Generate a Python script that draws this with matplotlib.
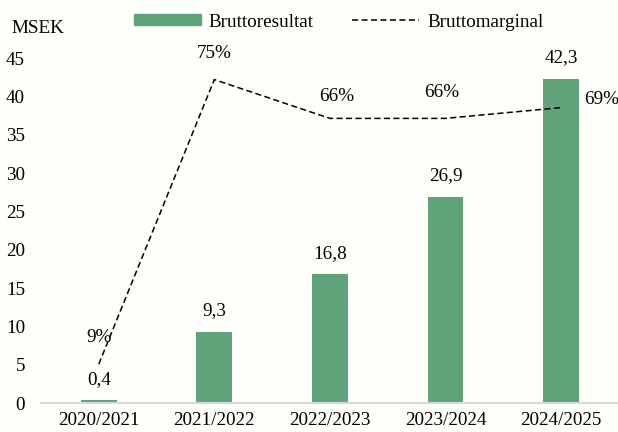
import matplotlib.pyplot as plt
from matplotlib.patches import Patch
from matplotlib.lines import Line2D

plt.rcParams['font.family'] = ['Liberation Serif', 'DejaVu Serif']

years = ['2020/2021', '2021/2022', '2022/2023', '2023/2024', '2024/2025']
bruttoresultat = [0.4, 9.3, 16.8, 26.9, 42.3]
bruttomarginal = [0.09, 0.75, 0.66, 0.66, 0.685]
res_labels = ['0,4', '9,3', '16,8', '26,9', '42,3']
marg_labels = ['9%', '75%', '66%', '66%', '69%']

green = '#5fa37a'
bg = '#fefefb'
fs = 13.8

fig = plt.figure(figsize=(6.18, 4.32), dpi=100, facecolor=bg)
ax = fig.add_axes([0.0663, 0.0671, 0.935, 0.7986], facecolor=bg)
x = range(len(years))

ax.bar(x, bruttoresultat, width=0.31, color=green, zorder=2)
ax.set_xlim(-0.5, 4.5)
ax.set_ylim(0, 45)
ax.set_yticks(range(0, 46, 5))
ax.set_xticks(list(x))
ax.set_xticklabels(years)
ax.tick_params(axis='both', length=0, labelsize=fs)
ax.tick_params(axis='y', pad=11.5)
ax.tick_params(axis='x', pad=6.5)
for s in ['top', 'right', 'left']:
    ax.spines[s].set_visible(False)
ax.spines['bottom'].set_color('#d9d9d9')
ax.spines['bottom'].set_linewidth(1.5)

for i, v in enumerate(bruttoresultat):
    ax.annotate(res_labels[i], (i, v), xytext=(0, 15), textcoords='offset points',
                ha='center', va='center', fontsize=fs)

ax2 = ax.twinx()
ax2.set_ylim(0, 0.8)
ax2.axis('off')
ax2.plot(x, bruttomarginal, color='black', lw=1.1, dashes=(4, 2.2), zorder=3)

offsets = [(0, 19), (0, 19), (5, 16), (-3, 19), (29, 6)]
for i, v in enumerate(bruttomarginal):
    ax2.annotate(marg_labels[i], (i, v), xytext=offsets[i], textcoords='offset points',
                 ha='center', va='center', fontsize=fs)

fig.text(0.019, 0.933, 'MSEK', fontsize=fs, ha='left', va='center')

handles = [Patch(color=green, label='Bruttoresultat'),
           Line2D([], [], color='black', lw=1.1, dashes=(4, 2.2), label='Bruttomarginal')]
fig.legend(handles=handles, loc='center', bbox_to_anchor=(0.548, 0.949), ncol=2,
           frameon=False, fontsize=fs, handlelength=3.5, handleheight=0.48,
           handletextpad=0.42, columnspacing=2.0)

fig.savefig('out.png', dpi=100, facecolor=bg)
